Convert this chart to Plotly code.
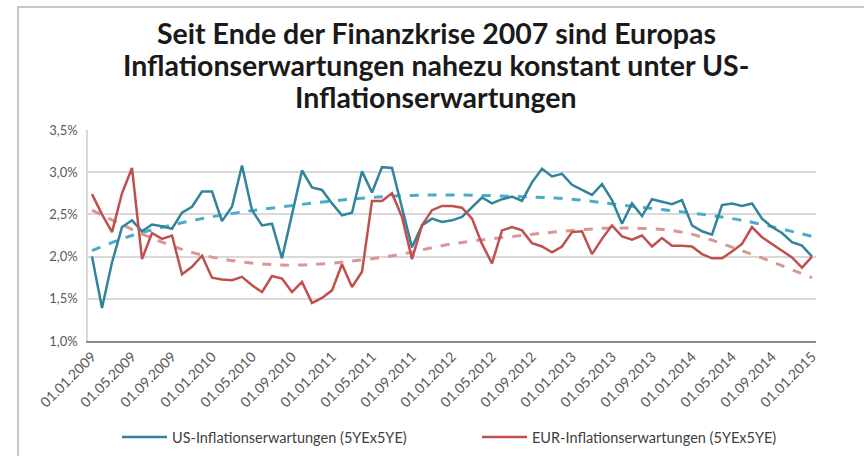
import plotly.graph_objects as go

# Monthly dates 01.01.2009 .. 01.01.2015
dates = [f"01.{m:02d}.{y}" for y in range(2009, 2016) for m in range(1, 13)][:73]

us_values = [2.00, 1.39, 1.93, 2.35, 2.43, 2.30, 2.38, 2.36, 2.33, 2.52,
             2.59, 2.77, 2.77, 2.42, 2.59, 3.08, 2.55, 2.37, 2.39, 1.98,
             2.50, 3.02, 2.82, 2.79, 2.63, 2.49, 2.52, 3.01, 2.76, 3.06,
             3.05, 2.58, 2.11, 2.37, 2.45, 2.41, 2.43, 2.47, 2.58, 2.70,
             2.63, 2.68, 2.71, 2.66, 2.88, 3.04, 2.95, 2.98, 2.85, 2.79,
             2.73, 2.86, 2.67, 2.39, 2.63, 2.48, 2.68, 2.65, 2.62, 2.67,
             2.37, 2.30, 2.26, 2.61, 2.63, 2.60, 2.63, 2.45, 2.35, 2.28,
             2.17, 2.13, 2.00]

eur_values = [2.74, 2.50, 2.29, 2.75, 3.05, 1.97, 2.28, 2.21, 2.25, 1.79,
              1.88, 2.01, 1.75, 1.73, 1.72, 1.76, 1.66, 1.58, 1.77, 1.74,
              1.58, 1.70, 1.45, 1.51, 1.60, 1.91, 1.64, 1.82, 2.66, 2.66,
              2.75, 2.47, 1.97, 2.37, 2.55, 2.60, 2.60, 2.58, 2.45, 2.15,
              1.92, 2.31, 2.35, 2.31, 2.16, 2.12, 2.05, 2.12, 2.29, 2.30,
              2.03, 2.21, 2.37, 2.24, 2.20, 2.25, 2.12, 2.22, 2.13, 2.13,
              2.12, 2.03, 1.98, 1.98, 2.06, 2.15, 2.35, 2.23, 2.15, 2.07,
              1.99, 1.87, 2.00]

# Trend lines read at selected months (index into dates)
us_trend_idx = [0, 4, 11, 19, 29, 36, 43, 48, 53, 59, 65, 72]
us_trend = [2.07, 2.25, 2.45, 2.59, 2.71, 2.73, 2.71, 2.68, 2.61, 2.53, 2.43, 2.24]
eur_trend_idx = [0, 6, 11, 19, 29, 36, 43, 48, 53, 59, 65, 72]
eur_trend = [2.55, 2.22, 2.02, 1.90, 1.99, 2.15, 2.25, 2.31, 2.34, 2.29, 2.07, 1.75]

tick_labels = dates[::4]
y_tickvals = [1.0, 1.5, 2.0, 2.5, 3.0, 3.5]
y_ticktext = ["1,0%", "1,5%", "2,0%", "2,5%", "3,0%", "3,5%"]

title_lines = ["Seit Ende der Finanzkrise 2007 sind Europas",
               "Inflationserwartungen nahezu konstant unter US-",
               "Inflationserwartungen"]

US_COL = "#31849B"
EUR_COL = "#C0504D"
US_TR = "#4BACC6"
EUR_TR = "#DA9694"

W, H = 864, 456
ML, MR, MT, MB = 88, 48, 130, 115
PH = H - MT - MB
PW = W - ML - MR

def py(px_from_top):
    return (H - MB - px_from_top) / PH

def px(px_from_left):
    return (px_from_left - ML) / PW

xi = list(range(len(dates)))

fig = go.Figure()
fig.add_trace(go.Scatter(x=us_trend_idx, y=us_trend, mode="lines", line_shape="spline",
                         line=dict(color=US_TR, width=3, dash="dash"), showlegend=False,
                         hoverinfo="skip"))
fig.add_trace(go.Scatter(x=eur_trend_idx, y=eur_trend, mode="lines", line_shape="spline",
                         line=dict(color=EUR_TR, width=3, dash="dash"), showlegend=False,
                         hoverinfo="skip"))
fig.add_trace(go.Scatter(x=xi, y=us_values, mode="lines", name="US-Inflationserwartungen (5YEx5YE)",
                         line=dict(color=US_COL, width=2.5)))
fig.add_trace(go.Scatter(x=xi, y=eur_values, mode="lines", name="EUR-Inflationserwartungen (5YEx5YE)",
                         line=dict(color=EUR_COL, width=2.5)))

font_fam = "Lato, 'Open Sans', sans-serif"

fig.update_layout(
    width=W, height=H,
    margin=dict(l=ML, r=MR, t=MT, b=MB, autoexpand=False),
    paper_bgcolor="white", plot_bgcolor="white",
    font=dict(family=font_fam, color="#595959"),
    legend=dict(orientation="h", x=px(117), xanchor="left", y=py(437), yanchor="middle",
                font=dict(size=14.5, color="#404040"), entrywidth=300, itemwidth=45,
                bgcolor="rgba(0,0,0,0)"),
    xaxis=dict(range=[-0.4, 72.4], tickmode="array",
               tickvals=[xi[i] for i in range(0, 73, 4)], ticktext=tick_labels,
               tickangle=-45, tickfont=dict(size=14, color="#595959"),
               showgrid=False, showline=True, linecolor="#8c8c8c", linewidth=2,
               zeroline=False, ticks="", automargin=False),
    yaxis=dict(range=[1.0, 3.5], tickmode="array", tickvals=y_tickvals, ticktext=y_ticktext,
               tickfont=dict(size=13, color="#595959"), showgrid=True, gridcolor="#d9d9d9",
               gridwidth=1.5, showline=True, linecolor="#d9d9d9", linewidth=1.5,
               zeroline=False, ticks="", ticklabelstandoff=6, automargin=False),
)

for line, cy in zip(title_lines, [33, 65, 97]):
    fig.add_annotation(text=line, xref="paper", yref="paper", x=px(436), y=py(cy),
                       xanchor="center", yanchor="middle", showarrow=False,
                       font=dict(family=font_fam, size=28.5, color="#1a1a1a", weight="bold"))

# outer chart frame (left and top edges visible)
fig.add_shape(type="rect", xref="paper", yref="paper", x0=px(18), x1=1.5, y0=-1.0, y1=py(7),
              line=dict(color="#c8c8c8", width=2), fillcolor="rgba(0,0,0,0)", layer="below")

fig.write_html("out.html", config={"displayModeBar": False},
               post_script="document.body.style.margin='0';")
